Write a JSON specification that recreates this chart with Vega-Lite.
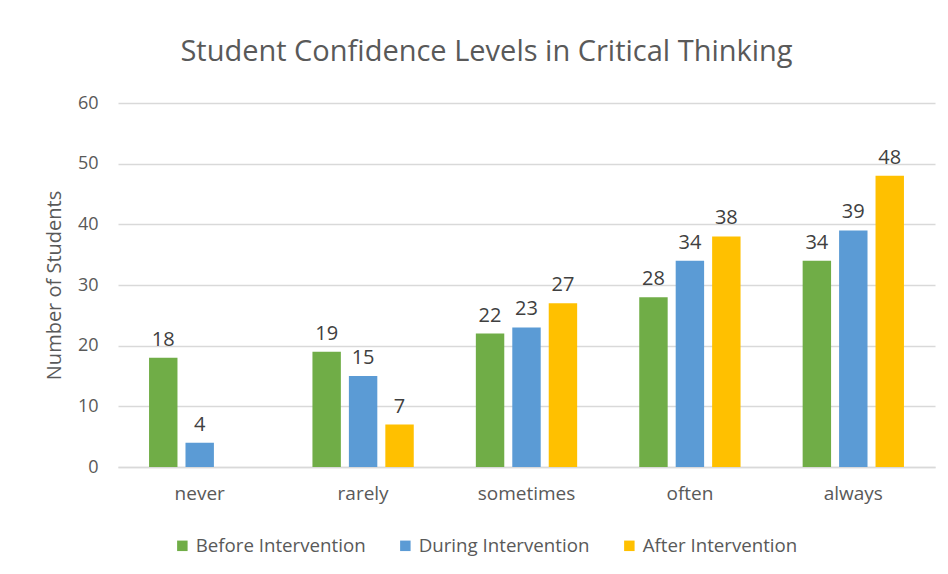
{
  "$schema": "https://vega.github.io/schema/vega-lite/v6.json",
  "autosize": {"type": "none"},
  "padding": {"left": 118, "top": 103, "right": 13, "bottom": 107},
  "width": 817,
  "height": 364,
  "background": "white",
  "title": {
    "text": "Student Confidence Levels in Critical Thinking",
    "font": "Open Sans",
    "fontSize": 29,
    "fontWeight": "normal",
    "color": "#595959",
    "anchor": "middle",
    "dx": -40,
    "offset": 27
  },
  "data": {
    "values": [
      {"level": "never", "phase": "Before Intervention", "students": 18},
      {"level": "never", "phase": "During Intervention", "students": 4},
      {"level": "never", "phase": "After Intervention", "students": 0},
      {"level": "rarely", "phase": "Before Intervention", "students": 19},
      {"level": "rarely", "phase": "During Intervention", "students": 15},
      {"level": "rarely", "phase": "After Intervention", "students": 7},
      {"level": "sometimes", "phase": "Before Intervention", "students": 22},
      {"level": "sometimes", "phase": "During Intervention", "students": 23},
      {"level": "sometimes", "phase": "After Intervention", "students": 27},
      {"level": "often", "phase": "Before Intervention", "students": 28},
      {"level": "often", "phase": "During Intervention", "students": 34},
      {"level": "often", "phase": "After Intervention", "students": 38},
      {"level": "always", "phase": "Before Intervention", "students": 34},
      {"level": "always", "phase": "During Intervention", "students": 39},
      {"level": "always", "phase": "After Intervention", "students": 48}
    ]
  },
  "encoding": {
    "x": {
      "field": "level",
      "type": "nominal",
      "sort": ["never", "rarely", "sometimes", "often", "always"],
      "scale": {"paddingInner": 0.38, "paddingOuter": 0.19},
      "axis": {
        "title": null,
        "labelAngle": 0,
        "labelFont": "Open Sans",
        "labelFontSize": 19,
        "labelColor": "#595959",
        "labelPadding": 17,
        "ticks": false,
        "domainColor": "#d9d9d9",
        "domainWidth": 1.5
      }
    },
    "xOffset": {
      "field": "phase",
      "type": "nominal",
      "sort": ["Before Intervention", "During Intervention", "After Intervention"],
      "scale": {"paddingInner": 0.22}
    },
    "y": {
      "field": "students",
      "type": "quantitative",
      "scale": {"domain": [0, 60]},
      "axis": {
        "title": "Number of Students",
        "titleFont": "Open Sans",
        "titleFontSize": 20,
        "titleFontWeight": "normal",
        "titleColor": "#595959",
        "titlePadding": 13,
        "values": [0, 10, 20, 30, 40, 50, 60],
        "labelFont": "Open Sans",
        "labelFontSize": 18,
        "labelColor": "#595959",
        "labelPadding": 20,
        "ticks": false,
        "domain": false,
        "gridColor": "#d9d9d9",
        "gridWidth": 1.5
      }
    }
  },
  "layer": [
    {
      "mark": {"type": "bar"},
      "encoding": {
        "color": {
          "field": "phase",
          "type": "nominal",
          "sort": ["Before Intervention", "During Intervention", "After Intervention"],
          "scale": {
            "domain": ["Before Intervention", "During Intervention", "After Intervention"],
            "range": ["#70AD47", "#5B9BD5", "#FFC000"]
          },
          "legend": {
            "title": null,
            "orient": "none",
            "direction": "horizontal",
            "legendX": 55,
            "legendY": 433,
            "symbolType": "square",
            "symbolSize": 110,
            "symbolStrokeWidth": 0,
            "labelFont": "Open Sans",
            "labelFontSize": 18.7,
            "labelLimit": 400,
            "labelColor": "#595959",
            "labelOffset": 4,
            "columnPadding": 30
          }
        }
      }
    },
    {
      "transform": [{"filter": "datum.students > 0"}],
      "mark": {
        "type": "text",
        "baseline": "bottom",
        "dy": -8,
        "font": "Open Sans",
        "fontSize": 20,
        "color": "#404040"
      },
      "encoding": {
        "text": {"field": "students", "type": "quantitative"}
      }
    }
  ],
  "config": {
    "view": {"stroke": null}
  }
}
